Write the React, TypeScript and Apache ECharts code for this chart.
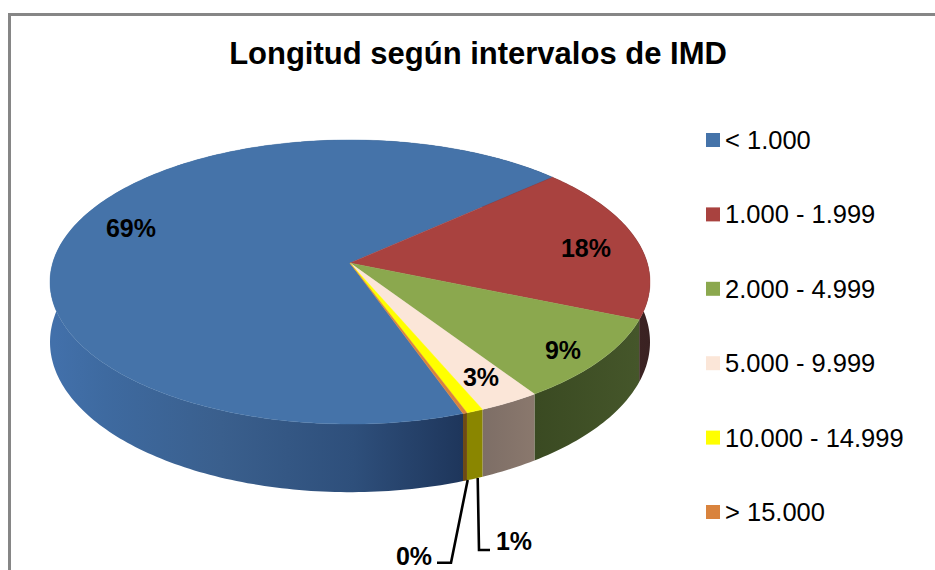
import React, { useEffect, useRef } from "react";
import * as echarts from "echarts";

const TITLE = "Longitud según intervalos de IMD";
const categories = ["< 1.000", "1.000 - 1.999", "2.000 - 4.999", "5.000 - 9.999", "10.000 - 14.999", "> 15.000"];
const shares = [68.7, 18.0, 9.4, 2.9, 0.8, 0.2];
const topColors = ["#4573A9", "#A9423F", "#8BA84E", "#FBE6D8", "#FFFF00", "#D9833D"];
const sideStops: [number, string][][] = [
  [[0, "#4270AA"], [0.12, "#3E6AA0"], [0.4, "#3A5F8D"], [0.72, "#2E4F7B"], [1, "#1D3459"]],
  [[0, "#4A2A2A"], [1, "#3A2222"]],
  [[0, "#3A4A22"], [1, "#45562A"]],
  [[0, "#7D6E66"], [1, "#8A786D"]],
  [[0, "#8A8600"], [1, "#8A8600"]],
  [[0, "#6E4A14"], [1, "#6E4A14"]],
];

const START_DEG = 160.6;
const CX = 350, CY = 263, A = 297.3, B = 139.5, P = 0.1338, D = 59;
const FONT = '"Liberation Sans", Arial, sans-serif';

const labelSpots = [
  { x: 131, y: 228 },
  { x: 586, y: 248 },
  { x: 563, y: 350 },
  { x: 481, y: 377 },
  { x: 514, y: 541, leader: [[477.7, 478], [479, 550], [490, 550]] },
  { x: 414, y: 556, leader: [[467.7, 480], [451, 562.7], [437, 562.7]] },
];
// slices 5 and 6 carry their leader labels: "1%" is the yellow one, "0%" the orange one

function project(deg: number, drop: number): [number, number] {
  const t = (deg * Math.PI) / 180;
  const u = Math.sin(t);
  const w = -Math.cos(t);
  const k = 1 - P * w;
  return [CX + (A * u) / k, CY + (B * w + drop) / k];
}

function arc(from: number, to: number, drop: number): [number, number][] {
  const n = Math.max(2, Math.ceil((to - from) / 1));
  const pts: [number, number][] = [];
  for (let i = 0; i <= n; i++) pts.push(project(from + ((to - from) * i) / n, drop));
  return pts;
}

function buildOption() {
  const total = shares.reduce((a, b) => a + b, 0);
  let acc = 0;
  const series = categories.map((name, i) => {
    const from = START_DEG + (acc / total) * 360;
    acc += shares[i];
    const to = START_DEG + (acc / total) * 360;
    return {
      type: "custom",
      name,
      coordinateSystem: "none",
      itemStyle: { color: topColors[i] },
      data: [[shares[i]]],
      silent: true,
      renderItem: () => {
        const top = arc(from, to, 0);
        const bottom = arc(from, to, D).reverse();
        const spot = labelSpots[i];
        const xs = i === 0 ? [55, 470] : [Math.min(...top.map((p) => p[0])), Math.max(...top.map((p) => p[0]))];
        const children: any[] = [
          {
            type: "polygon",
            z2: 1,
            shape: { points: [...top, ...bottom] },
            style: {
              fill: new echarts.graphic.LinearGradient(
                xs[0], 0, xs[1] + 0.01, 0,
                sideStops[i].map(([offset, color]) => ({ offset, color })),
                true
              ),
            },
          },
          {
            type: "polygon",
            z2: 2,
            shape: { points: [[CX, CY], ...top] },
            style: { fill: topColors[i], stroke: topColors[i], lineWidth: 0.4 },
          },
          {
            type: "text",
            z2: 5,
            style: {
              text: `${Math.round(shares[i])}%`,
              x: spot.x,
              y: spot.y,
              align: "center",
              verticalAlign: "middle",
              fill: "#000",
              font: `bold 25px ${FONT}`,
            },
          },
        ];
        if (spot.leader) {
          children.push({
            type: "polyline",
            z2: 4,
            shape: { points: spot.leader },
            style: { stroke: "#000", lineWidth: 2.6, fill: "none" },
          });
        }
        return { type: "group", children };
      },
    };
  });

  return {
    animation: false,
    backgroundColor: "#fff",
    title: {
      text: TITLE,
      left: 473,
      top: 33,
      textAlign: "center",
      textStyle: { fontFamily: FONT, fontSize: 31, fontWeight: "bold", color: "#000" },
    },
    legend: {
      orient: "vertical",
      left: 701,
      top: 122,
      icon: "rect",
      itemWidth: 14,
      itemHeight: 14,
      itemGap: 48.4,
      selectedMode: false,
      textStyle: { fontFamily: FONT, fontSize: 25.5, color: "#000", padding: [4, 0, 0, 0] },
      data: categories,
    },
    graphic: [
      { type: "line", shape: { x1: 9.5, y1: 570, x2: 9.5, y2: 14.5 }, style: { stroke: "#868686", lineWidth: 3 } },
      { type: "line", shape: { x1: 8, y1: 14.5, x2: 935, y2: 14.5 }, style: { stroke: "#868686", lineWidth: 3 } },
    ],
    series,
  };
}

export default function App() {
  const ref = useRef<HTMLDivElement>(null);
  useEffect(() => {
    const chart = echarts.init(ref.current!, undefined, { renderer: "svg" });
    chart.setOption(buildOption() as any);
    return () => chart.dispose();
  }, []);
  return <div ref={ref} style={{ position: "fixed", left: 0, top: 0, width: 935, height: 570 }} />;
}
